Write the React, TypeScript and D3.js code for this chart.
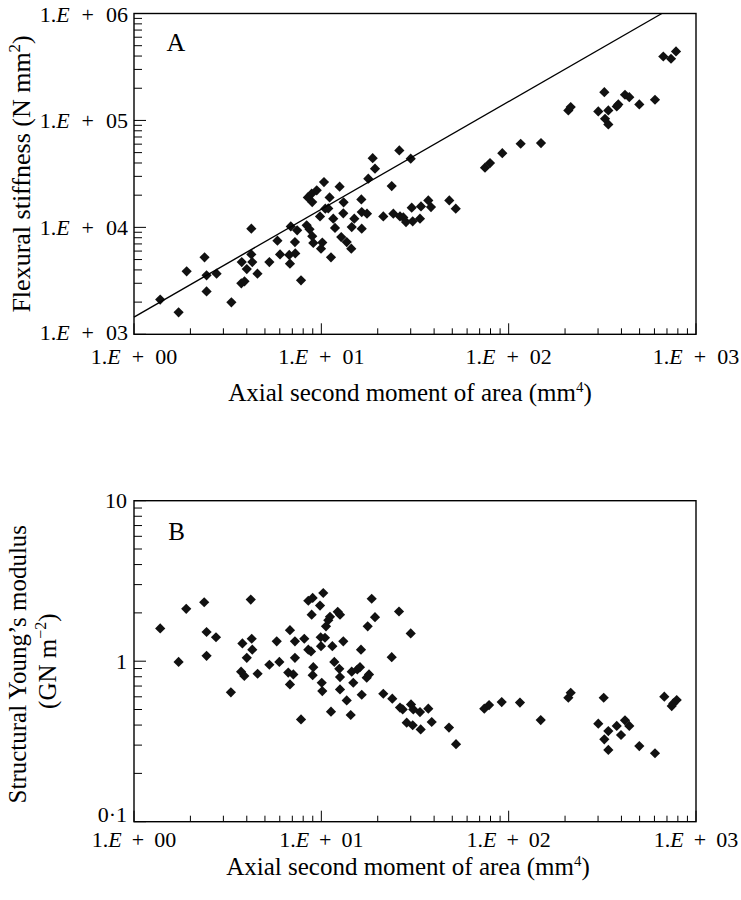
import { useEffect, useRef } from "react";
import * as d3 from "d3";

// Panel A: axial second moment of area (mm4) vs flexural stiffness (N mm2)
const iA = [
  1.38, 1.73, 1.91, 2.38, 2.44, 2.44, 2.76, 3.31, 3.76, 3.74, 3.89, 4.0, 4.23, 4.23, 4.28, 4.56,
  5.28, 5.83, 6.02, 6.74, 6.8, 6.87, 7.23, 7.26, 7.43, 7.79, 8.35, 8.47, 8.88, 8.94, 8.65, 8.94,
  9.06, 9.45, 9.84, 9.96, 10.12, 10.33, 10.5, 10.89, 11.07, 11.26, 11.58, 11.83, 12.52, 12.77,
  13.15, 13.1, 13.66, 14.53, 14.45, 15.0, 16.35, 16.43, 16.43, 17.53, 17.81, 18.8, 19.34, 21.42,
  23.75, 24.23, 26.08, 26.3, 27.39, 28.31, 30.0, 30.37, 30.74, 33.62, 34.04, 37.24, 38.49, 48.2,
  52.18, 74.76, 79.5, 92.47, 115.9, 148.8, 208.2, 214.4, 300.9, 324.1, 326.9, 340.4, 340.4,
  377.5, 384.9, 417.8, 440.5, 498.2, 604.1, 669.1, 735.6, 782.2,
];
const eiA = [
  2110, 1605, 3880, 5245, 3560, 2520, 3690, 1990, 4740, 3000, 3130, 4070, 9730, 5590, 4740, 3690,
  4740, 7510, 5590, 5520, 4580, 10200, 7290, 5710, 9380, 3200, 10440, 19070, 20650, 17230, 9580,
  8270, 7160, 22180, 12670, 6320, 7210, 26510, 14960, 15050, 19070, 5245, 12060, 9890, 24010,
  8120, 17130, 13520, 7290, 10070, 6320, 12060, 18270, 13900, 9730, 13430, 28530, 44350, 35370,
  12670, 24320, 13430, 52440, 12670, 12400, 11210, 43850, 15280, 11380, 12060, 15710, 17880,
  15480, 17880, 14960, 36130, 39900, 49460, 60560, 61360, 124000, 133200, 121400, 183900, 103700,
  124000, 91770, 135200, 141100, 173900, 165100, 141100, 156100, 396300, 377400, 441500,
];
// fitted line EI = a * I^b
const fitA = 1450;
const fitB = 1.0075;

// Panel B: axial second moment of area (mm4) vs structural Young's modulus (GN m-2)
const iB = [
  1.38, 1.73, 1.9, 2.37, 2.44, 2.44, 2.74, 3.29, 3.79, 3.73, 3.88, 4.0, 4.2, 4.25, 4.28, 4.57,
  5.28, 5.78, 5.97, 6.8, 6.66, 6.8, 7.09, 7.23, 7.23, 7.79, 8.11, 8.52, 8.52, 8.81, 8.88, 8.99,
  9.06, 8.99, 9.84, 9.92, 9.96, 10.05, 10.12, 10.24, 10.46, 10.59, 10.89, 11.12, 11.26, 11.45,
  11.73, 12.23, 12.58, 12.47, 12.58, 12.58, 13.1, 13.66, 14.35, 14.53, 14.81, 15.56, 16.08, 16.28,
  16.43, 17.47, 17.68, 18.57, 19.34, 17.97, 21.42, 23.75, 23.92, 25.98, 26.3, 27.19, 28.56, 30.0,
  30.11, 30.74, 30.97, 33.62, 33.91, 37.24, 38.83, 48.02, 52.36, 74.1, 78.6, 91.8, 114.9, 148.3,
  208.2, 214.4, 321.6, 300.9, 340.4, 324.1, 340.4, 377.5, 397.9, 417.8, 440.5, 498.2, 604.1,
  677.4, 741.9, 788.9, 756.7,
];
const eB = [
  1.6, 0.99, 2.12, 2.33, 1.52, 1.08, 1.41, 0.64, 1.29, 0.86, 0.81, 1.05, 2.42, 1.38, 1.18, 0.835,
  0.95, 1.33, 0.99, 1.56, 0.85, 0.717, 0.827, 1.05, 1.33, 0.434, 1.38, 2.38, 1.18, 1.15, 1.95,
  2.48, 0.918, 0.818, 2.22, 1.41, 1.24, 0.734, 0.651, 2.66, 1.4, 1.65, 1.8, 1.89, 0.485, 1.24,
  0.99, 2.03, 1.95, 0.897, 0.796, 0.667, 1.33, 0.57, 0.462, 0.86, 0.734, 0.888, 0.918, 1.18,
  0.618, 0.789, 1.65, 2.45, 1.88, 0.827, 0.627, 1.06, 0.584, 2.04, 0.514, 0.501, 0.414, 1.49,
  0.538, 0.399, 0.501, 0.482, 0.376, 0.506, 0.418, 0.386, 0.304, 0.506, 0.533, 0.556, 0.552,
  0.43, 0.592, 0.636, 0.592, 0.408, 0.367, 0.326, 0.28, 0.395, 0.347, 0.428, 0.395, 0.296, 0.267,
  0.601, 0.525, 0.573, 0.546,
];

const xDomain = [1, 1000];
const yDomainA = [1e3, 1e6];
const yDomainB = [0.1, 10];
const yTickLabelsB = ["0·1", "1", "10"];

const SERIF = "'Liberation Serif', 'Times New Roman', serif";

const App = () => {
  const ref = useRef(null);

  useEffect(() => {
    document.body.style.margin = "0";
    const root = d3.select(ref.current);
    root.selectAll("*").remove();

    const svg = root
      .append("svg")
      .attr("width", 741)
      .attr("height", 900)
      .style("display", "block")
      .style("background", "#fff")
      .style("font-family", SERIF);

    const left = 134;
    const right = 696;

    // scientific tick label like "1.E + 03"
    const sciLabel = (g, x, y, anchor, exp, gap) => {
      const t = g
        .append("text")
        .attr("x", x)
        .attr("y", y)
        .attr("text-anchor", anchor)
        .style("font-size", "22px");
      t.append("tspan").text("1.");
      t.append("tspan").style("font-style", "italic").text("E");
      t.append("tspan").attr("dx", gap).text("+");
      t.append("tspan").attr("dx", gap).text(String(exp).padStart(2, "0"));
    };

    const drawFrame = (g, x, y, top, bottom) => {
      g.append("rect")
        .attr("x", left)
        .attr("y", top)
        .attr("width", right - left)
        .attr("height", bottom - top)
        .attr("fill", "none")
        .attr("stroke", "#000")
        .attr("stroke-width", 1.4);

      // x ticks (inward)
      x.ticks().forEach((v) => {
        const major = Math.abs(Math.log10(v) - Math.round(Math.log10(v))) < 1e-9;
        g.append("line")
          .attr("x1", x(v))
          .attr("x2", x(v))
          .attr("y1", bottom)
          .attr("y2", bottom - (major ? 11 : 6))
          .attr("stroke", "#000")
          .attr("stroke-width", 1);
      });
      // y ticks (inward)
      y.ticks().forEach((v) => {
        const major = Math.abs(Math.log10(v) - Math.round(Math.log10(v))) < 1e-9;
        g.append("line")
          .attr("x1", left)
          .attr("x2", left + (major ? 12 : 8))
          .attr("y1", y(v))
          .attr("y2", y(v))
          .attr("stroke", "#000")
          .attr("stroke-width", 1);
      });
    };

    const diamond = d3.symbol(d3.symbolSquare, 52);

    // ---------- Panel A ----------
    const xA = d3.scaleLog().domain(xDomain).range([left, right]);
    const yA = d3.scaleLog().domain(yDomainA).range([334.3, 13.5]);
    const gA = svg.append("g");

    gA.selectAll("path.pt")
      .data(d3.range(iA.length))
      .enter()
      .append("path")
      .attr("class", "pt")
      .attr("d", diamond)
      .attr("transform", (i) => `translate(${xA(iA[i])},${yA(eiA[i])}) rotate(45)`)
      .attr("fill", "#111");

    const xEnd = Math.pow(yDomainA[1] / fitA, 1 / fitB);
    const line = d3
      .line()
      .x((d) => xA(d[0]))
      .y((d) => yA(d[1]));
    gA.append("path")
      .attr("d", line([[1, fitA], [xEnd, yDomainA[1]]]))
      .attr("fill", "none")
      .attr("stroke", "#000")
      .attr("stroke-width", 1.4);

    drawFrame(gA, xA, yA, 13.5, 334.3);

    [0, 1, 2, 3].forEach((k) => sciLabel(gA, xA(Math.pow(10, k)), 364, "middle", k, 11));
    [3, 4, 5, 6].forEach((k) =>
      sciLabel(gA, 128, yA(Math.pow(10, k)) + (k === 3 ? 5.2 : 8), "end", k, 12)
    );

    gA.append("text")
      .attr("x", 176)
      .attr("y", 50.5)
      .attr("text-anchor", "middle")
      .style("font-size", "26px")
      .text("A");

    const titleA = gA
      .append("text")
      .attr("x", 410)
      .attr("y", 401)
      .attr("text-anchor", "middle")
      .style("font-size", "25px");
    titleA.append("tspan").text("Axial second moment of area (mm");
    titleA.append("tspan").attr("dy", -9).style("font-size", "15px").text("4");
    titleA.append("tspan").attr("dy", 9).text(")");

    const yTitleA = gA
      .append("text")
      .attr("transform", `translate(30,${(13.5 + 334.3) / 2}) rotate(-90)`)
      .attr("text-anchor", "middle")
      .style("font-size", "26px");
    yTitleA.append("tspan").text("Flexural stiffness (N mm");
    yTitleA.append("tspan").attr("dy", -10).style("font-size", "17px").text("2");
    yTitleA.append("tspan").attr("dy", 10).text(")");

    // ---------- Panel B ----------
    const xB = d3.scaleLog().domain(xDomain).range([left, right]);
    const yB = d3.scaleLog().domain(yDomainB).range([821.7, 500.7]);
    const gB = svg.append("g");

    gB.selectAll("path.pt")
      .data(d3.range(iB.length))
      .enter()
      .append("path")
      .attr("class", "pt")
      .attr("d", diamond)
      .attr("transform", (i) => `translate(${xB(iB[i])},${yB(eB[i])}) rotate(45)`)
      .attr("fill", "#111");

    drawFrame(gB, xB, yB, 500.7, 821.7);

    [0, 1, 2, 3].forEach((k) => sciLabel(gB, xB(Math.pow(10, k)), 846.5, "middle", k, 10));
    [0.1, 1, 10].forEach((v, i) =>
      gB
        .append("text")
        .attr("x", 127)
        .attr("y", yB(v) + (i === 0 ? 0.5 : 7.5))
        .attr("text-anchor", "end")
        .style("font-size", "22px")
        .text(yTickLabelsB[i])
    );

    gB.append("text")
      .attr("x", 176.5)
      .attr("y", 540)
      .attr("text-anchor", "middle")
      .style("font-size", "25px")
      .text("B");

    const titleB = gB
      .append("text")
      .attr("x", 408)
      .attr("y", 874.5)
      .attr("text-anchor", "middle")
      .style("font-size", "25px");
    titleB.append("tspan").text("Axial second moment of area (mm");
    titleB.append("tspan").attr("dy", -9).style("font-size", "15px").text("4");
    titleB.append("tspan").attr("dy", 9).text(")");

    const cyB = (500.7 + 821.7) / 2;
    gB.append("text")
      .attr("transform", `translate(26,${cyB + 3}) rotate(-90)`)
      .attr("text-anchor", "middle")
      .style("font-size", "25px")
      .text("Structural Young’s modulus");
    const yTitleB2 = gB
      .append("text")
      .attr("transform", `translate(56,${cyB}) rotate(-90)`)
      .attr("text-anchor", "middle")
      .style("font-size", "25px");
    yTitleB2.append("tspan").text("(GN m");
    yTitleB2.append("tspan").attr("dy", -10).style("font-size", "16px").text("−2");
    yTitleB2.append("tspan").attr("dy", 10).text(")");

    return () => {
      root.selectAll("*").remove();
    };
  }, []);

  return <div ref={ref}></div>;
};

export default App;
